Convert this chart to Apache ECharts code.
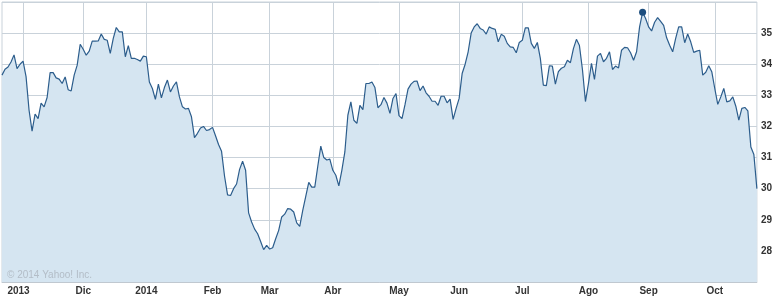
<!DOCTYPE html>
<html>
<head>
<meta charset="utf-8">
<script src="https://cdn.jsdelivr.net/npm/echarts@6/dist/echarts.min.js"></script>
<style>
html,body{margin:0;padding:0;background:#fff;}
#chart{width:775px;height:298px;}
</style>
</head>
<body>
<div id="chart"></div>
<script>
// Month tick labels and the trading-day index where each month starts
var monthLabels = ['2013','Dic','2014','Feb','Mar','Abr','May','Jun','Jul','Ago','Sep','Oct'];
var monthIdx = [7, 27, 48, 70, 89, 110, 132, 152, 173, 195, 215, 237];

// Daily closing prices (one per trading day)
var prices = [
 33.65, 33.84, 33.91, 34.07, 34.3, 33.86, 34.0, 34.1, 33.6, 32.52,
 31.85, 32.4, 32.25, 32.75, 32.63, 32.93, 33.73, 33.73, 33.56, 33.52,
 33.38, 33.59, 33.18, 33.14, 33.65, 33.97, 34.64, 34.48, 34.29, 34.42,
 34.74, 34.74, 34.75, 34.97, 34.8, 34.77, 34.35, 34.83, 35.18, 35.04,
 35.04, 34.24, 34.6, 34.19, 34.19, 34.15, 34.1, 34.26, 34.24, 33.43,
 33.22, 32.87, 33.36, 32.92, 33.25, 33.49, 33.11, 33.3, 33.43, 32.95,
 32.63, 32.56, 32.58, 32.31, 31.64, 31.78, 31.95, 32.0, 31.87, 31.9,
 31.97, 31.7, 31.42, 31.2, 30.4, 29.8, 29.78, 30.0, 30.15, 30.62,
 30.88, 30.59, 29.22, 28.93, 28.7, 28.55, 28.3, 28.04, 28.18, 28.06,
 28.1, 28.39, 28.66, 29.09, 29.18, 29.36, 29.34, 29.25, 28.9, 28.79,
 29.3, 29.75, 30.2, 30.05, 30.05, 30.72, 31.37, 31.0, 30.92, 30.95,
 30.59, 30.43, 30.09, 30.59, 31.18, 32.36, 32.79, 32.2, 32.1, 32.68,
 32.54, 33.38, 33.38, 33.43, 33.25, 32.6, 32.7, 32.93, 32.75, 32.42,
 32.9, 33.06, 32.35, 32.25, 32.7, 33.2, 33.36, 33.45, 33.46, 33.15,
 33.3, 33.08, 32.97, 32.81, 32.81, 32.68, 32.97, 32.97, 32.76, 32.88,
 32.23, 32.58, 32.9, 33.7, 34.0, 34.4, 35.0, 35.2, 35.3, 35.15,
 35.1, 34.97, 35.2, 35.15, 35.12, 34.72, 34.96, 34.9, 34.67, 34.56,
 34.54, 34.37, 34.7, 34.77, 35.17, 35.17, 34.67, 34.51, 34.7, 34.19,
 33.33, 33.31, 33.95, 33.94, 33.36, 33.76, 33.87, 33.92, 34.13, 34.05,
 34.5, 34.8, 34.6, 33.83, 32.8, 33.38, 34.03, 33.51, 34.26, 34.35,
 34.08, 34.19, 34.4, 33.83, 33.94, 33.88, 34.45, 34.54, 34.53, 34.37,
 34.13, 34.4, 35.2, 35.67, 35.47, 35.2, 35.07, 35.35, 35.5, 35.38,
 35.25, 34.85, 34.61, 34.4, 34.83, 35.2, 35.2, 34.69, 34.97, 34.72,
 34.38, 34.42, 34.45, 33.65, 33.74, 33.95, 33.76, 33.22, 32.71, 32.95,
 33.22, 32.79, 32.82, 32.95, 32.65, 32.2, 32.58, 32.61, 32.5, 31.34,
 31.1, 30.0
];

var yMin = 27, yMax = 36, yStep = 1;

// Build category list: label at month starts, empty elsewhere
var categories = prices.map(function (_, i) {
  var k = monthIdx.indexOf(i);
  if (k < 0) return '';
  if (k === 0) return { value: monthLabels[k], textStyle: { padding: [0, 9, 0, 0] } };
  return monthLabels[k];
});

var gridColor = '#c9d2da';
var chart = echarts.init(document.getElementById('chart'), null, { renderer: 'canvas' });
chart.setOption({
  animation: false,
  grid: { left: 2, right: 18, top: 2, bottom: 16, show: true, borderColor: gridColor, borderWidth: 1, backgroundColor: 'transparent' },
  xAxis: {
    type: 'category',
    data: categories,
    boundaryGap: false,
    axisLine: { show: true, lineStyle: { color: '#c0c8d0', width: 1 } },
    axisTick: { show: false },
    axisLabel: {
      interval: function (i) { return monthIdx.indexOf(i) >= 0; },
      margin: 4,
      color: '#333',
      fontFamily: 'Liberation Sans',
      fontWeight: 'bold',
      fontSize: 10
    },
    splitLine: {
      show: true,
      interval: function (i) { return monthIdx.indexOf(i) >= 0; },
      lineStyle: { color: gridColor, width: 1 }
    }
  },
  yAxis: {
    type: 'value',
    position: 'right',
    min: yMin, max: yMax, interval: yStep,
    axisLine: { show: false },
    axisTick: { show: false },
    axisLabel: {
      margin: 4,
      color: '#333',
      fontFamily: 'Liberation Sans',
      fontWeight: 'bold',
      fontSize: 10,
      formatter: function (v) { return (v <= yMin || v >= yMax) ? '' : String(v); }
    },
    splitLine: { show: true, lineStyle: { color: gridColor, width: 1 } }
  },
  graphic: [{
    type: 'text',
    left: 7, top: 270,
    z: 100,
    style: { text: '\u00a9 2014 Yahoo! Inc.', fill: '#b3bdc7', font: '10px "Liberation Sans"' }
  }],
  series: [{
    type: 'line',
    data: prices,
    showSymbol: false,
    symbol: 'none',
    smooth: false,
    lineStyle: { color: '#2c5d8c', width: 1.2 },
    areaStyle: { color: '#d5e5f1', opacity: 1, origin: 'start' },
    markPoint: {
      symbol: 'circle',
      symbolSize: 7,
      itemStyle: { color: '#1d4e7e' },
      label: { show: false },
      data: [{ type: 'max' }]
    },
    z: 2
  }]
});
</script>
</body>
</html>
